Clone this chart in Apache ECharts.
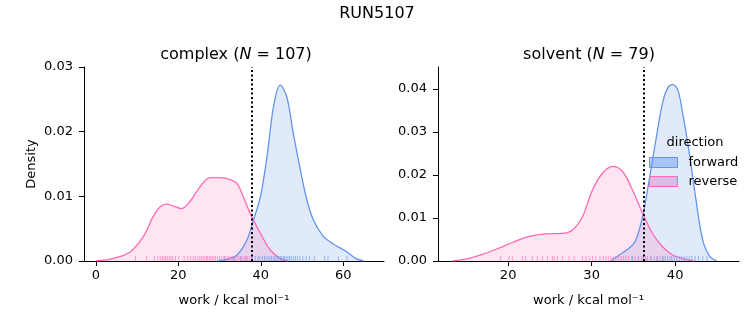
<!DOCTYPE html>
<html>
<head>
<meta charset="utf-8">
<script src="https://cdn.jsdelivr.net/npm/echarts@6/dist/echarts.min.js"></script>
<style>html,body{margin:0;padding:0;background:#fff}#c{width:753px;height:325px}</style>
</head>
<body>
<div id="c"></div>
<script>
// ---- data ----
const complexForwardX = [29.5, 32.0, 34.2, 36.6, 38.2, 39.9, 41.5, 43.1, 44.7, 46.3, 47.9, 49.6, 51.2, 52.8, 55.2, 57.7, 60.9, 63.0, 65.0];
const complexForwardY = [0, 0.0003, 0.0009, 0.0032, 0.0063, 0.0099, 0.0161, 0.0239, 0.0272, 0.0254, 0.0197, 0.0141, 0.0094, 0.0063, 0.0038, 0.0026, 0.0014, 0.0004, 0];
const complexReverseX = [0.0, 4.2, 8.3, 11.5, 13.9, 15.6, 17.2, 18.8, 20.8, 22.8, 25.3, 27.7, 30.1, 32.6, 34.2, 35.8, 37.4, 39.9, 42.3, 44.7, 46.5];
const complexReverseY = [0, 0.0004, 0.0014, 0.0038, 0.0069, 0.0084, 0.0088, 0.0085, 0.0081, 0.0092, 0.0115, 0.0129, 0.0129, 0.0126, 0.0120, 0.0099, 0.0074, 0.0043, 0.0017, 0.0004, 0];
const solventForwardX = [32.3, 33.3, 34.5, 35.3, 36.1, 36.9, 37.7, 38.5, 39.1, 39.7, 40.3, 40.9, 41.7, 42.5, 43.3, 44.1, 45.0];
const solventForwardY = [0, 0.0014, 0.0030, 0.0049, 0.0103, 0.0189, 0.0282, 0.0368, 0.0402, 0.0410, 0.0399, 0.0344, 0.0251, 0.0142, 0.0049, 0.0012, 0];
const solventReverseX = [13.3, 15.3, 17.3, 18.9, 20.5, 22.5, 24.5, 26.5, 27.7, 28.9, 30.1, 31.3, 32.5, 33.7, 34.9, 36.1, 37.3, 38.5, 39.7, 41.3, 42.3];
const solventReverseY = [0, 0.0006, 0.0018, 0.0030, 0.0043, 0.0057, 0.0063, 0.0064, 0.0072, 0.0103, 0.0165, 0.0204, 0.0220, 0.0208, 0.0165, 0.0111, 0.0064, 0.0033, 0.0014, 0.0004, 0];

const complexForwardRug = [31.2, 33.5, 35.1, 36.4, 37.9, 38.7, 39.3, 39.8, 40.4, 40.9, 41.3, 41.8, 42.2, 42.6, 43.0, 43.4, 43.7, 44.1, 44.4, 44.8, 45.1, 45.5, 45.8, 46.2, 46.6, 47.0, 47.4, 47.9, 48.4, 48.9, 49.5, 50.2, 51.0, 51.8, 53.0, 55.5, 56.3, 58.8, 60.9];
const complexReverseRug = [9.6, 12.3, 14.2, 15.0, 15.6, 16.1, 16.5, 16.9, 17.3, 17.8, 18.2, 18.6, 19.3, 20.1, 21.4, 22.3, 23.0, 23.6, 24.1, 24.7, 25.2, 25.6, 26.0, 26.4, 26.8, 27.1, 27.5, 27.9, 28.2, 28.6, 29.0, 29.5, 30.0, 30.4, 30.9, 31.3, 31.8, 32.2, 32.7, 33.1, 33.6, 34.0, 34.5, 35.0, 35.4, 35.9, 36.3, 36.8, 37.3, 37.8];
const solventForwardRug = [34.9, 35.6, 36.2, 36.7, 37.1, 37.5, 37.9, 38.2, 38.5, 38.8, 39.1, 39.4, 39.6, 39.9, 40.2, 40.5, 40.8, 41.1, 41.4, 41.7, 42.0, 42.4, 42.8, 43.3, 43.8];
const solventReverseRug = [19.1, 20.1, 20.5, 21.7, 22.1, 22.9, 23.5, 24.1, 24.7, 25.3, 25.5, 25.9, 26.5, 27.3, 27.9, 28.9, 29.3, 29.7, 30.1, 30.5, 31.0, 31.4, 31.7, 32.0, 32.3, 32.6, 32.9, 33.2, 33.5, 33.8, 34.1, 34.4, 34.8, 35.2, 35.6, 36.0, 36.5, 37.1, 37.8, 38.6];

const complexDG = 37.7;
const solventDG = 36.3;

const complexXTicks = [0, 20, 40, 60];
const complexYTicks = [0, 0.01, 0.02, 0.03];
const solventXTicks = [20, 30, 40];
const solventYTicks = [0, 0.01, 0.02, 0.03, 0.04];

// ---- styling ----
const FONT = 'DejaVu Sans';
const BLUE = '#6495ED', PINK = '#FF69B4';
const pairs = (xs, ys) => xs.map((x, i) => [x, ys[i]]);
const rug = v => v.map(x => [x, 0]);

function xAxis(gi, min, max, ticks) {
  return {
    type: 'value', gridIndex: gi, min: min, max: max,
    name: 'work / kcal mol⁻¹', nameLocation: 'middle', nameGap: 33,
    nameTextStyle: {fontFamily: FONT, fontSize: 13, color: '#000'},
    axisLine: {show: true, onZero: false, lineStyle: {color: '#000', width: 1}},
    axisTick: {show: true, length: 5, customValues: ticks, lineStyle: {color: '#000'}},
    axisLabel: {customValues: ticks, fontFamily: FONT, fontSize: 13, color: '#000', margin: 8},
    splitLine: {show: false}
  };
}
function yAxis(gi, max, ticks, name) {
  return {
    type: 'value', gridIndex: gi, min: 0, max: max,
    name: name, nameLocation: 'middle', nameGap: 46,
    nameTextStyle: {fontFamily: FONT, fontSize: 13, color: '#000'},
    axisLine: {show: true, onZero: false, lineStyle: {color: '#000', width: 1}},
    axisTick: {show: true, length: 5, customValues: ticks, lineStyle: {color: '#000'}},
    axisLabel: {customValues: ticks, fontFamily: FONT, fontSize: 13, color: '#000', margin: 11,
      formatter: v => v.toFixed(2)},
    splitLine: {show: false}
  };
}
function kde(name, gi, xs, ys, color, fill, dg) {
  const s = {
    name: name, type: 'line', xAxisIndex: gi, yAxisIndex: gi,
    data: pairs(xs, ys), smooth: 0.35, showSymbol: false, symbol: 'none',
    lineStyle: {color: color, width: 1.3},
    itemStyle: {color: color},
    areaStyle: {color: fill},
    z: 2
  };
  if (dg !== undefined) {
    s.markLine = {
      silent: true, symbol: ['none', 'none'], label: {show: false},
      lineStyle: {color: '#000', width: 2, type: [2, 2.5]},
      data: [{xAxis: dg}], animation: false
    };
  }
  return s;
}
function rugSeries(name, gi, vals, color) {
  return {
    name: name, type: 'scatter', xAxisIndex: gi, yAxisIndex: gi,
    data: rug(vals), symbol: 'rect', symbolSize: [1, 5], symbolOffset: [0, -2.5],
    itemStyle: {color: color, opacity: 0.6}, silent: true, z: 3
  };
}
const sub = {
  a: {fontFamily: FONT, fontSize: 16, fontWeight: 'normal', color: '#000'},
  i: {fontFamily: FONT, fontSize: 16, fontWeight: 'normal', fontStyle: 'italic', color: '#000'}
};

const chart = echarts.init(document.getElementById('c'), null, {renderer: 'canvas'});
chart.setOption({
  animation: false,
  backgroundColor: '#fff',
  title: [
    {text: 'RUN5107', left: 372, top: 1, textAlign: 'center',
      textStyle: {fontFamily: FONT, fontSize: 16, fontWeight: 'normal', color: '#000'}},
    {text: '{a|complex (}{i|N}{a| = 107)}', left: 231, top: 42, textAlign: 'center',
      textStyle: {fontWeight: 'normal', rich: sub}},
    {text: '{a|solvent (}{i|N}{a| = 79)}', left: 584, top: 42, textAlign: 'center',
      textStyle: {fontWeight: 'normal', rich: sub}},
    {text: 'direction', left: 690, top: 131, textAlign: 'center',
      textStyle: {fontFamily: FONT, fontSize: 13, fontWeight: 'normal', color: '#000'}}
  ],
  legend: {
    orient: 'vertical', left: 649, top: 156, padding: 0, itemWidth: 28, itemHeight: 10, itemGap: 6,
    textStyle: {fontFamily: FONT, fontSize: 13, color: '#000', padding: [0, 0, 0, 6]},
    data: [
      {name: 'forward', icon: 'rect', itemStyle: {color: 'rgba(100,149,237,0.45)', borderColor: BLUE, borderWidth: 1}},
      {name: 'reverse', icon: 'rect', itemStyle: {color: 'rgba(210,130,200,0.45)', borderColor: PINK, borderWidth: 1}}
    ],
    selectedMode: false
  },
  grid: [
    {left: 84, top: 67, width: 300, height: 194},
    {left: 438, top: 67, width: 301, height: 194}
  ],
  xAxis: [xAxis(0, -2.9, 69.9, complexXTicks), xAxis(1, 11.6, 47.65, solventXTicks)],
  yAxis: [yAxis(0, 0.03, complexYTicks, 'Density'), yAxis(1, 0.0451, solventYTicks, '')],
  series: [
    kde('forward', 0, complexForwardX, complexForwardY, BLUE, 'rgba(100,149,237,0.28)', complexDG),
    kde('reverse', 0, complexReverseX, complexReverseY, PINK, 'rgba(255,105,180,0.26)'),
    kde('forward', 1, solventForwardX, solventForwardY, BLUE, 'rgba(100,149,237,0.28)', solventDG),
    kde('reverse', 1, solventReverseX, solventReverseY, PINK, 'rgba(255,105,180,0.26)'),
    rugSeries('forward rug c', 0, complexForwardRug, BLUE),
    rugSeries('reverse rug c', 0, complexReverseRug, PINK),
    rugSeries('forward rug s', 1, solventForwardRug, BLUE),
    rugSeries('reverse rug s', 1, solventReverseRug, PINK)
  ]
});
</script>
</body>
</html>
